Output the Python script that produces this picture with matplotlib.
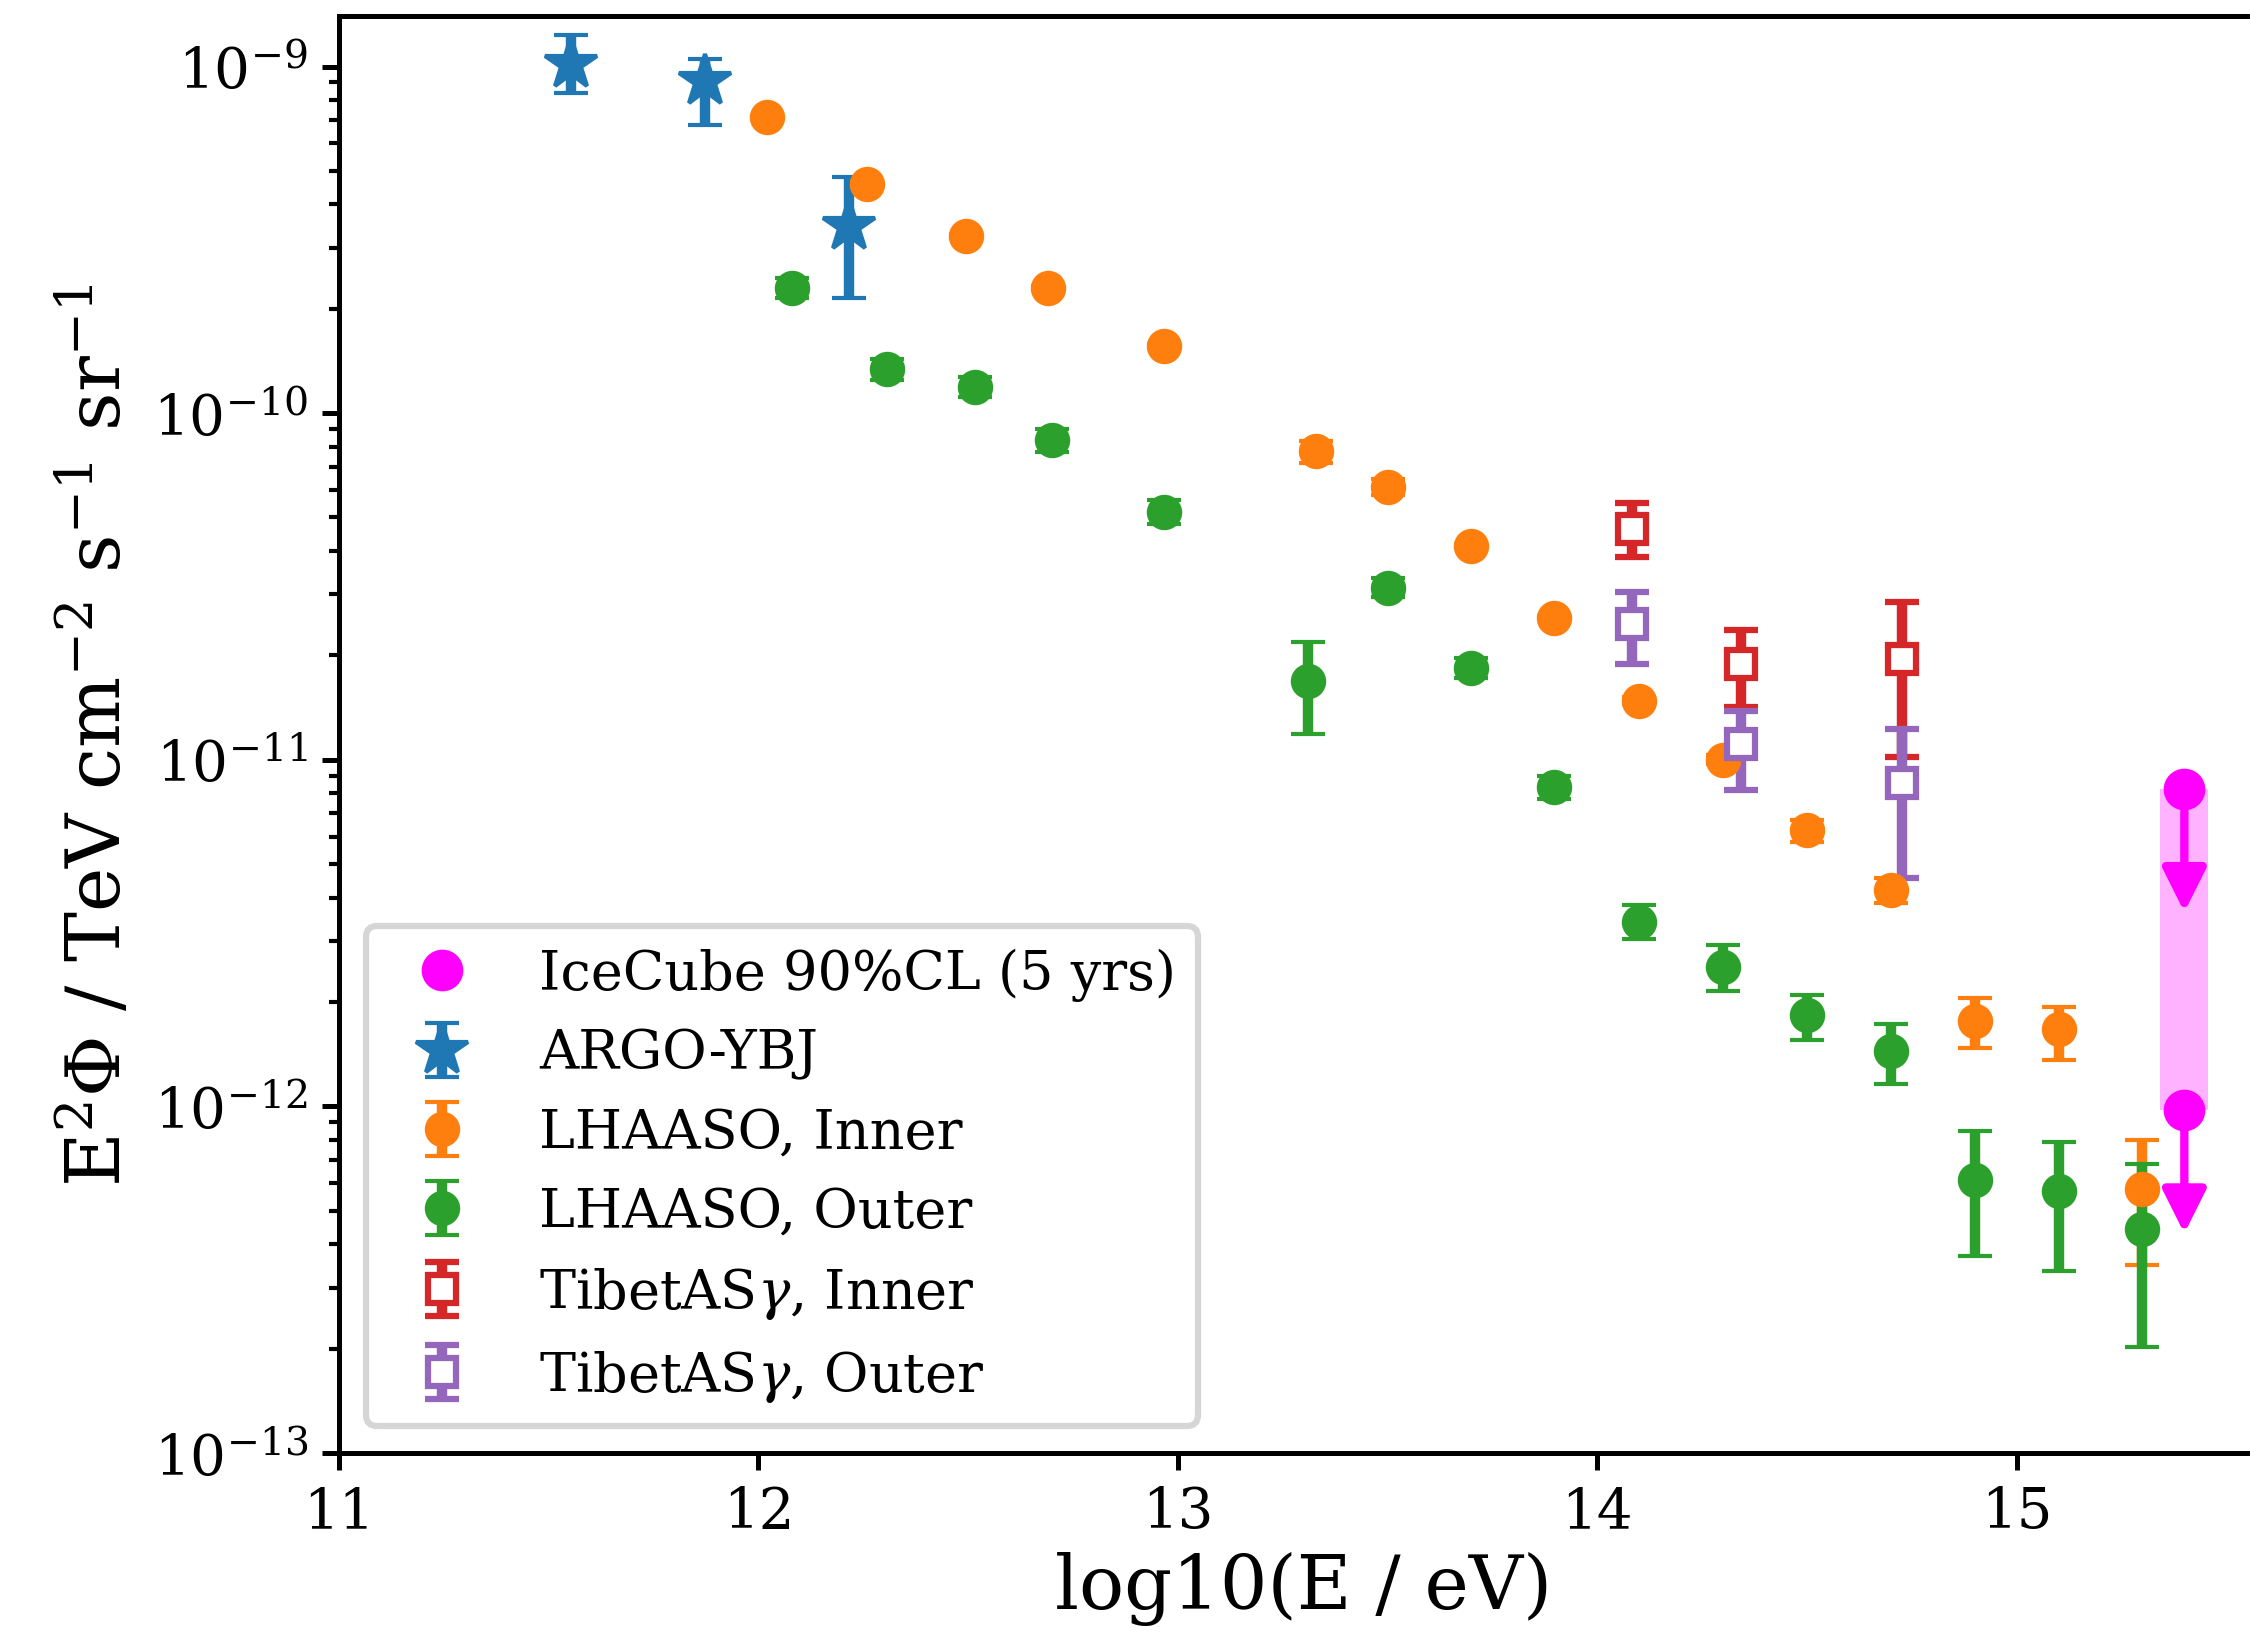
import numpy as np
import matplotlib
matplotlib.use("Agg")
import matplotlib.pyplot as plt

plt.rcParams['font.family'] = 'DejaVu Serif'
plt.rcParams['mathtext.fontset'] = 'dejavuserif'

# IceCube 90% CL upper limits (5 yrs)
ice_x = [15.40, 15.40]
ice_y = [8.26e-12, 9.77e-13]
ice_arrow = 0.44   # arrow reaches ice_y * ice_arrow
ice_band = 0.057   # half width of the shaded band in log10(E)

# ARGO-YBJ
argo_x = [11.554, 11.873, 12.215]
argo_y = [1.02e-9, 9.1e-10, 3.47e-10]
argo_lo = [8.4e-10, 6.8e-10, 2.15e-10]
argo_hi = [1.23e-9, 1.05e-9, 4.8e-10]

# LHAASO, inner region
inner_x = [12.02, 12.26, 12.495, 12.69, 12.967, 13.33, 13.50, 13.70, 13.898,
           14.10, 14.30, 14.50, 14.70, 14.90, 15.10, 15.30]
inner_y = [7.16e-10, 4.57e-10, 3.24e-10, 2.30e-10, 1.56e-10, 7.76e-11, 6.12e-11,
           4.14e-11, 2.57e-11, 1.48e-11, 1.0e-11, 6.26e-12, 4.2e-12, 1.76e-12,
           1.67e-12, 5.78e-13]
inner_lo = [7.1e-10, 4.5e-10, 3.2e-10, 2.27e-10, 1.54e-10, 7.2e-11, 5.8e-11,
            4.1e-11, 2.54e-11, 1.45e-11, 9.7e-12, 5.8e-12, 3.85e-12, 1.47e-12,
            1.36e-12, 3.48e-13]
inner_hi = [7.2e-10, 4.65e-10, 3.28e-10, 2.33e-10, 1.58e-10, 8.3e-11, 6.45e-11,
            4.2e-11, 2.6e-11, 1.52e-11, 1.03e-11, 6.7e-12, 4.55e-12, 2.06e-12,
            1.94e-12, 8.0e-13]

# LHAASO, outer region
outer_x = [12.08, 12.307, 12.516, 12.70, 12.967, 13.31, 13.50, 13.70, 13.898,
           14.10, 14.30, 14.50, 14.70, 14.90, 15.10, 15.30]
outer_y = [2.30e-10, 1.34e-10, 1.19e-10, 8.38e-11, 5.2e-11, 1.69e-11, 3.14e-11,
           1.84e-11, 8.34e-12, 3.40e-12, 2.53e-12, 1.83e-12, 1.44e-12, 6.12e-13,
           5.68e-13, 4.43e-13]
outer_lo = [2.15e-10, 1.25e-10, 1.11e-10, 7.7e-11, 4.8e-11, 1.19e-11, 2.95e-11,
            1.72e-11, 7.7e-12, 3.03e-12, 2.15e-12, 1.55e-12, 1.16e-12, 3.7e-13,
            3.36e-13, 2.02e-13]
outer_hi = [2.45e-10, 1.43e-10, 1.27e-10, 9.0e-11, 5.6e-11, 2.19e-11, 3.35e-11,
            1.97e-11, 9.0e-12, 3.8e-12, 2.92e-12, 2.1e-12, 1.73e-12, 8.5e-13,
            7.9e-13, 6.8e-13]

# Tibet AS-gamma, inner region
tib_in_x = [14.083, 14.343, 14.726]
tib_in_y = [4.64e-11, 1.89e-11, 1.95e-11]
tib_in_lo = [3.84e-11, 1.42e-11, 1.02e-11]
tib_in_hi = [5.51e-11, 2.36e-11, 2.86e-11]

# Tibet AS-gamma, outer region
tib_out_x = [14.083, 14.343, 14.726]
tib_out_y = [2.47e-11, 1.11e-11, 8.59e-12]
tib_out_lo = [1.89e-11, 8.2e-12, 4.57e-12]
tib_out_hi = [3.05e-11, 1.38e-11, 1.23e-11]


def asym(y, lo, hi):
    y = np.array(y)
    return [y - np.array(lo), np.array(hi) - y]


fig = plt.figure(figsize=(7.5, 1639 / 300))
ax = fig.add_axes([0.1507, 0.1129, 0.8574, 0.8768])

eb = dict(ls='none', elinewidth=2.5, capsize=4)

ax.plot(ice_x, ice_y, 'o', color='magenta', ms=9, label='IceCube 90%CL (5 yrs)', zorder=3)
ax.fill_between([ice_x[0] - ice_band, ice_x[0] + ice_band], ice_y[1], ice_y[0],
                color='magenta', alpha=0.3, lw=0, zorder=1)
for xv, yv in zip(ice_x, ice_y):
    ax.annotate('', xy=(xv, yv * ice_arrow), xytext=(xv, yv),
                arrowprops=dict(arrowstyle='-|>', color='magenta', lw=2,
                                mutation_scale=22, shrinkA=0, shrinkB=0))

ax.errorbar(argo_x, argo_y, yerr=asym(argo_y, argo_lo, argo_hi), fmt='*',
            color='C0', ms=13, label='ARGO-YBJ', **eb)
ax.errorbar(inner_x, inner_y, yerr=asym(inner_y, inner_lo, inner_hi), fmt='o',
            color='C1', ms=7.5, label='LHAASO, Inner', **eb)
ax.errorbar(outer_x, outer_y, yerr=asym(outer_y, outer_lo, outer_hi), fmt='o',
            color='C2', ms=7.5, label='LHAASO, Outer', **eb)
ax.errorbar(tib_in_x, tib_in_y, yerr=asym(tib_in_y, tib_in_lo, tib_in_hi), fmt='s',
            color='C3', mfc='white', mew=1.5, ms=6.5,
            label=r'TibetAS$\gamma$, Inner', **eb)
ax.errorbar(tib_out_x, tib_out_y, yerr=asym(tib_out_y, tib_out_lo, tib_out_hi), fmt='s',
            color='C4', mfc='white', mew=1.5, ms=6.5,
            label=r'TibetAS$\gamma$, Outer', **eb)

ax.set_yscale('log')
ax.set_xlim(11, 15.6)
ax.set_ylim(1e-13, 1.4e-9)
ax.set_xticks([11, 12, 13, 14, 15])
ax.tick_params(labelsize=13.5, width=1.2, length=4)
ax.tick_params(which='minor', width=1.0, length=2.5)
for s in ax.spines.values():
    s.set_linewidth(1.2)

ax.set_xlabel('log10(E / eV)', fontsize=18, labelpad=3)
ax.set_ylabel(r'E$^2\Phi$ / TeV cm$^{-2}$ s$^{-1}$ sr$^{-1}$', fontsize=18)

leg = ax.legend(loc='lower left', fontsize=13)
leg.get_frame().set_linewidth(1.5)

fig.savefig('out.png', dpi=300)
